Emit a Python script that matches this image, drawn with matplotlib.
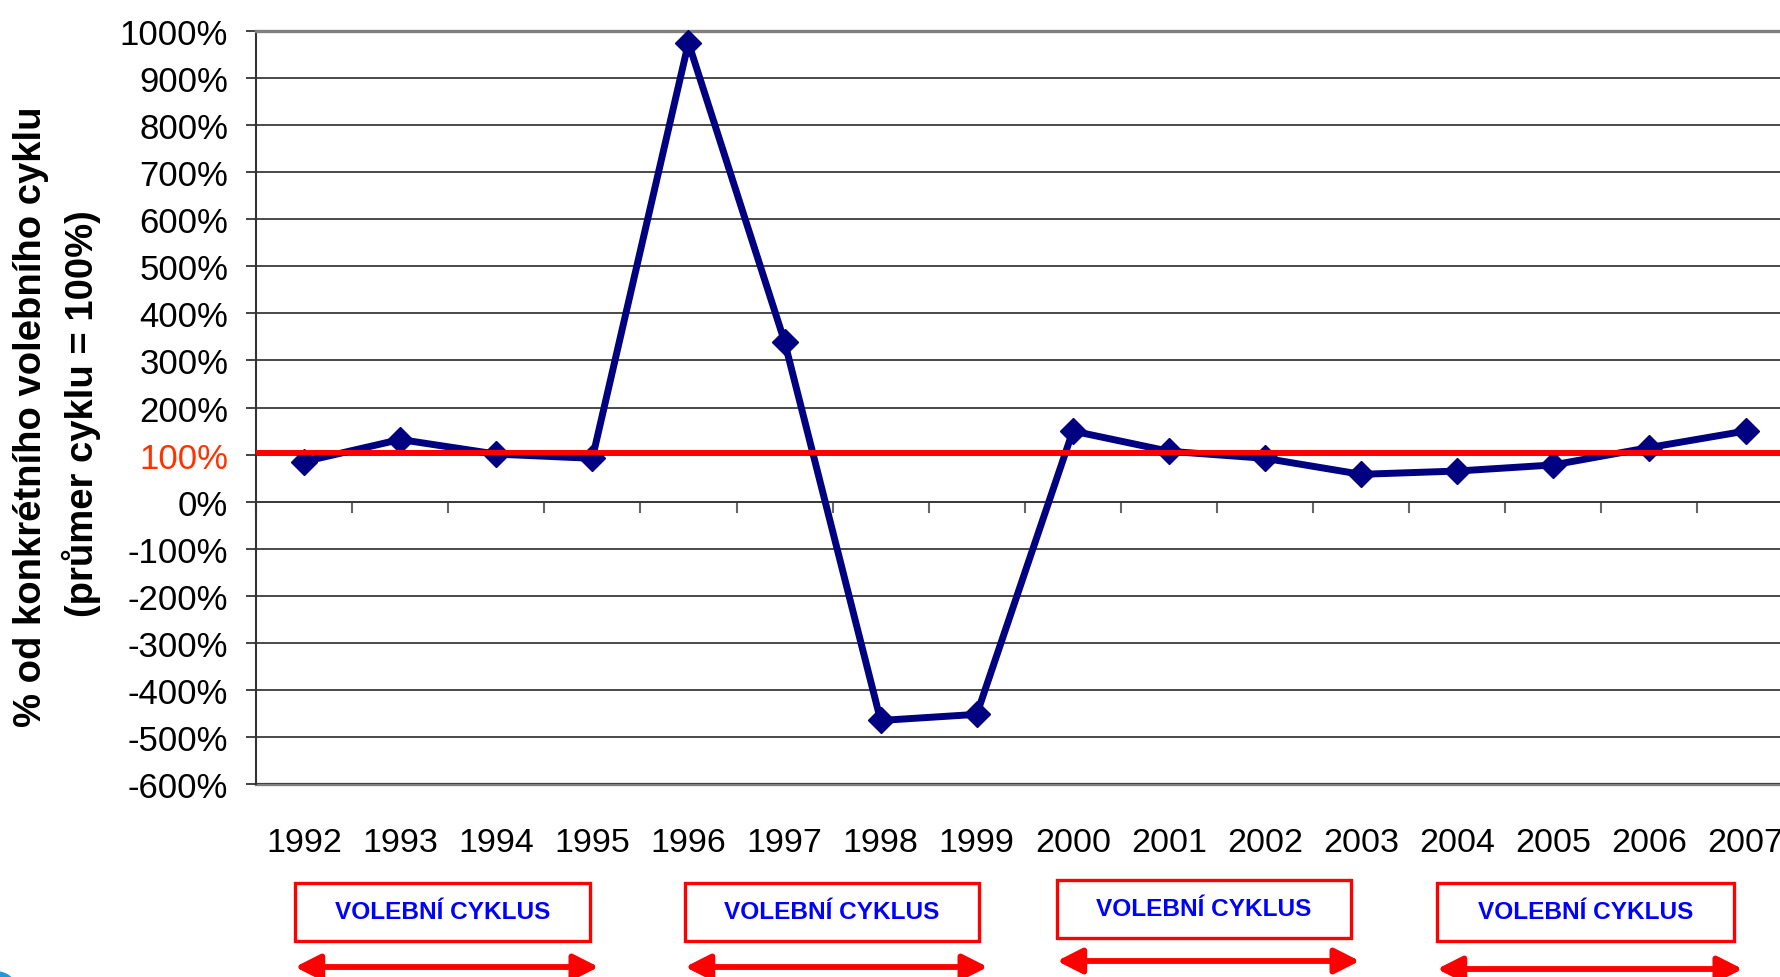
import numpy as np
import matplotlib
matplotlib.use("Agg")
import matplotlib.pyplot as plt
import matplotlib.patches as mpatches
from matplotlib import font_manager
from matplotlib.transforms import blended_transform_factory

# ---------------- data ----------------
years = [1992, 1993, 1994, 1995, 1996, 1997, 1998, 1999,
         2000, 2001, 2002, 2003, 2004, 2005, 2006, 2007]
values = [85, 132, 101, 92, 975, 340, -465, -452,
          150, 107, 92, 58, 65, 78, 115, 150]
average_line = 106
y_ticks = list(range(-600, 1001, 100))
y_label_lines = ["% od konkrétního volebního cyklu", "(průmer cyklu = 100%)"]
cycle_label = "VOLEBNÍ CYKLUS"
cycles = [(1992, 1995), (1996, 1999), (2000, 2003), (2004, 2007)]

# ---------------- layout ----------------
W, H = 1780, 978
plt.rcParams['font.family'] = ['Liberation Sans', 'DejaVu Sans']
fig = plt.figure(figsize=(W / 100, H / 100), dpi=100)

ax_left, ax_top, ax_bottom = 256, 32, 785
step = 96.1
ax = fig.add_axes([ax_left / W, 1 - ax_bottom / H,
                   16 * step / W, (ax_bottom - ax_top) / H])

x = np.arange(len(years))
ax.set_xlim(-0.5, len(years) - 0.5)
ax.set_ylim(min(y_ticks), max(y_ticks))

# grid
ax.set_yticks(y_ticks)
ax.yaxis.grid(True, color='#3a3a3a', lw=1.3, zorder=0)
ax.set_axisbelow(True)

# spines
ax.spines['right'].set_visible(False)
ax.spines['top'].set_color('#808080')
ax.spines['top'].set_linewidth(2.4)
ax.spines['left'].set_color('#333333')
ax.spines['left'].set_linewidth(1.5)
ax.spines['bottom'].set_position(('data', 0))
ax.spines['bottom'].set_color('#3a3a3a')
ax.spines['bottom'].set_linewidth(1.3)

# x axis: category boundary ticks at zero line
ax.set_xticks(x)
ax.set_xticks(np.arange(len(years) + 1) - 0.5, minor=True)
ax.tick_params(axis='x', which='major', length=0, labelbottom=False)
ax.tick_params(axis='x', which='minor', length=8, width=1.5, color='#666666',
               direction='out')

# y ticks
ax.set_yticklabels([f"{v}%" for v in y_ticks])
ax.tick_params(axis='y', which='major', length=7, width=1.3, color='#333333',
               direction='out', labelsize=25, pad=13)
for lab, v in zip(ax.get_yticklabels(), y_ticks):
    if v == 100:
        lab.set_color('#FF3300')

# secondary axis for year labels at the bottom
sec = ax.secondary_xaxis('bottom')
sec.set_xticks(x)
sec.set_xticklabels([str(y) for y in years])
sec.tick_params(axis='x', length=0, labelsize=24.5, pad=31)
sec.spines['bottom'].set_color('#808080')
sec.spines['bottom'].set_linewidth(2.4)

# data line
ax.plot(x, values, color='#000080', lw=5, marker='D', ms=13.5,
        markeredgewidth=1, zorder=4, clip_on=False)
ax.axhline(average_line, color='#FF0000', lw=3.6, zorder=5)

# y label (two lines)
fig.text(31 / W, 1 - 417 / H, y_label_lines[0], rotation=90, ha='center',
         va='center', fontsize=27.5, fontweight='bold')
fig.text(81 / W, 1 - 414 / H, y_label_lines[1], rotation=90, ha='center',
         va='center', fontsize=27.5, fontweight='bold')

# font for cycle boxes (condensed if available)
available = {f.name for f in font_manager.fontManager.ttflist}
box_family = 'Liberation Sans'
for cand in ['Liberation Sans Narrow', 'DejaVu Sans Condensed']:
    if cand in available:
        box_family = cand
        break

# cycle boxes and arrows
tr = blended_transform_factory(ax.transData, fig.transFigure)
box_dx = [(-0.094, -0.024), (-0.035, 0.024), (-0.165, -0.105), (-0.21, -0.12)]
box_y = [(884, 942), (884, 942), (881, 939), (884, 942)]
arrow_y = [968, 968, 962, 970]
arrow_extra = 0.09
box_texts = []
for (start, end), (d0, d1), (yt, yb), ay in zip(cycles, box_dx, box_y, arrow_y):
    i0 = years.index(start) + d0
    i1 = years.index(end) + d1
    rect = mpatches.Rectangle((i0, 1 - yb / H), i1 - i0, (yb - yt) / H,
                              transform=tr, facecolor='white',
                              edgecolor='#FF0000', lw=2.4, clip_on=False)
    fig.add_artist(rect)
    t = fig.text((i0 + i1) / 2, 1 - (yt + yb) / 2 / H, cycle_label, transform=tr,
                 ha='center', va='center', color='#0000FF', fontsize=20,
                 fontweight='bold', family=box_family)
    box_texts.append(t)
    arr = mpatches.FancyArrowPatch((i0, 1 - ay / H), (i1 + arrow_extra, 1 - ay / H),
                                   transform=tr,
                                   arrowstyle=mpatches.ArrowStyle('<|-|>', head_length=0.75,
                                                                  head_width=0.38),
                                   mutation_scale=20, color='#FF0000', lw=4.2,
                                   shrinkA=0, shrinkB=0, clip_on=False)
    fig.add_artist(arr)

# fit box text width (compromise between reference width and height)
fig.canvas.draw()
renderer = fig.canvas.get_renderer()
w = box_texts[0].get_window_extent(renderer).width
new_size = min(22, 20 * 215 / w)
for t in box_texts:
    t.set_fontsize(new_size)

# small decorative corner
fig.add_artist(mpatches.Circle((-8 / W, -6 / H), 0.012, transform=fig.transFigure,
                               color='#1E9BD7', clip_on=False))

fig.savefig('out.png', dpi=100)
